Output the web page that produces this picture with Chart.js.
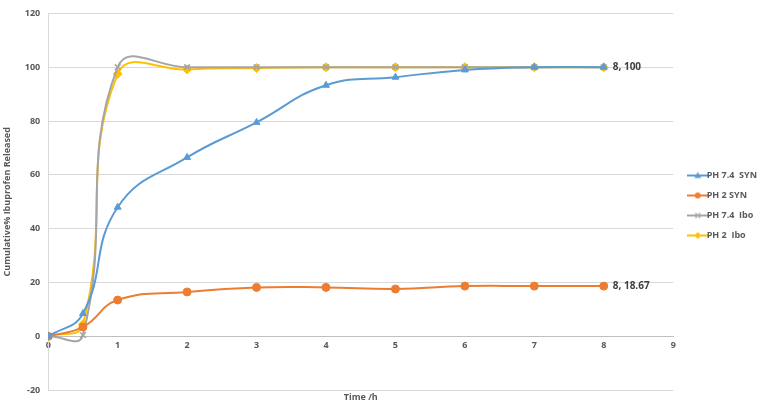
<!DOCTYPE html>
<html>
<head>
<meta charset="utf-8">
<script src="https://cdn.jsdelivr.net/npm/chart.js@4/dist/chart.umd.min.js"></script>
<style>
html,body{margin:0;padding:0;background:#fff;}
#wrap{width:775px;height:418px;}
</style>
</head>
<body>
<div id="wrap"><canvas id="c" width="775" height="418"></canvas></div>
<script>
const timeH = [0, 0.5, 1, 2, 3, 4, 5, 6, 7, 8];
const ph74Syn = [0, 8.5, 48, 66.5, 79.5, 93.3, 96.3, 99, 100, 100];
const ph2Syn = [0, 3.5, 13.5, 16.5, 18.2, 18.2, 17.6, 18.67, 18.67, 18.67];
const ph74Ibo = [0, 0.5, 100, 100, 100, 100, 100, 100, 100, 100];
const ph2Ibo = [0, 4.5, 97.5, 99.2, 99.7, 100, 100, 100, 100, 100];
const seriesNames = ['PH 7.4  SYN', 'PH 2 SYN', 'PH 7.4  Ibo', 'PH 2  Ibo'];
const yTicks = [-20, 0, 20, 40, 60, 80, 100, 120];
const xTicks = [0, 1, 2, 3, 4, 5, 6, 7, 8, 9];
const labelledSeries = [2, 1]; // series that carry an end label

const colors = ['#5B9BD5', '#ED7D31', '#A5A5A5', '#FFC000'];
const styles = ['triangle', 'circle', 'crossRot', 'rectRot'];
const radii = [4, 4, 4, 4.5];

function pts(ys){ return timeH.map((x,i)=>({x:x, y:ys[i]})); }

function legendIcon(color, style){
  const cv = document.createElement('canvas');
  cv.width = 22; cv.height = 10;
  const g = cv.getContext('2d');
  g.strokeStyle = color; g.lineWidth = 2;
  g.beginPath(); g.moveTo(0,5); g.lineTo(22,5); g.stroke();
  g.fillStyle = color;
  g.beginPath();
  if (style === 'triangle'){ g.moveTo(11,1.5); g.lineTo(14.5,7.5); g.lineTo(7.5,7.5); g.closePath(); g.fill(); }
  else if (style === 'circle'){ g.arc(11,5,3,0,Math.PI*2); g.fill(); }
  else if (style === 'crossRot'){ g.lineWidth=1.2; g.moveTo(8.5,2.5); g.lineTo(13.5,7.5); g.moveTo(13.5,2.5); g.lineTo(8.5,7.5); g.stroke(); }
  else { g.moveTo(11,1.5); g.lineTo(14.5,5); g.lineTo(11,8.5); g.lineTo(7.5,5); g.closePath(); g.fill(); }
  return cv;
}

const allSeries = [ph74Syn, ph2Syn, ph74Ibo, ph2Ibo];
const datasets = allSeries.map((s,i)=>({
  label: seriesNames[i],
  data: pts(s),
  borderColor: colors[i],
  backgroundColor: colors[i],
  pointBackgroundColor: colors[i],
  pointBorderColor: colors[i],
  pointStyle: styles[i],
  pointRadius: radii[i],
  pointBorderWidth: i===2 ? 1.5 : 1,
  borderWidth: 2,
  showLine: true,
  tension: 0.45,
  fill: false
}));

const endLabels = {
  id: 'endLabels',
  afterDatasetsDraw(chart){
    const ctx = chart.ctx;
    ctx.save();
    ctx.font = 'bold 10px "Open Sans", sans-serif';
    ctx.fillStyle = '#404040';
    ctx.textBaseline = 'middle';
    labelledSeries.forEach(di=>{
      const ds = chart.data.datasets[di];
      const p = ds.data[ds.data.length-1];
      const px = chart.scales.x.getPixelForValue(p.x);
      const py = chart.scales.y.getPixelForValue(p.y);
      ctx.fillText(p.x + ', ' + p.y, px + 9, py);
    });
    ctx.restore();
  }
};

new Chart(document.getElementById('c'), {
  type: 'scatter',
  data: { datasets },
  options: {
    responsive: false,
    animation: false,
    layout: { padding: { left: 2, top: 8, right: 8, bottom: 15 } },
    plugins: {
      legend: {
        position: 'right',
        labels: {
          font: { family: '"Open Sans", sans-serif', size: 9, weight: 'bold' },
          color: '#595959',
          usePointStyle: true,
          padding: 11,
          generateLabels(chart){
            return chart.data.datasets.map((d,i)=>({
              text: d.label,
              pointStyle: legendIcon(colors[i], styles[i]),
              fillStyle: colors[i],
              strokeStyle: colors[i],
              fontColor: '#595959',
              lineWidth: 0,
              datasetIndex: i,
              hidden: false
            }));
          }
        }
      },
      tooltip: { enabled: false }
    },
    scales: {
      x: {
        type: 'linear',
        position: { y: 0 },
        min: 0, max: 9,
        afterBuildTicks(axis){ axis.ticks = xTicks.map(v=>({value:v})); },
        ticks: { font: { family: '"Open Sans", sans-serif', size: 9, weight: 'bold' }, color: '#595959', padding: 4 },
        grid: { display: false, drawTicks: false },
        border: { color: '#BFBFBF', width: 1 }
      },
      x2: {
        type: 'linear',
        position: 'bottom',
        min: 0, max: 9,
        ticks: { display: false },
        grid: { display: false, drawTicks: false },
        border: { display: false },
        title: { display: true, text: 'Time /h', font: { family: '"Open Sans", sans-serif', size: 9, weight: 'bold' }, color: '#595959', padding: { top: 2, bottom: 0 } }
      },
      y: {
        min: -20, max: 120,
        afterBuildTicks(axis){ axis.ticks = yTicks.map(v=>({value:v})); },
        ticks: { font: { family: '"Open Sans", sans-serif', size: 9, weight: 'bold' }, color: '#595959', padding: 8 },
        grid: { color: '#D9D9D9', drawTicks: false },
        border: { color: '#D9D9D9' },
        title: { display: true, text: 'Cumulative% Ibuprofen Released', font: { family: '"Open Sans", sans-serif', size: 9, weight: 'bold' }, color: '#595959', padding: { top: 0, bottom: 4 } }
      },
      ySpacer: {
        type: 'linear',
        position: 'right',
        min: -20, max: 120,
        ticks: { display: false },
        grid: { display: false, drawTicks: false },
        border: { display: false },
        afterFit(axis){ axis.width = 9; }
      }
    }
  },
  plugins: [endLabels]
});
</script>
</body>
</html>
